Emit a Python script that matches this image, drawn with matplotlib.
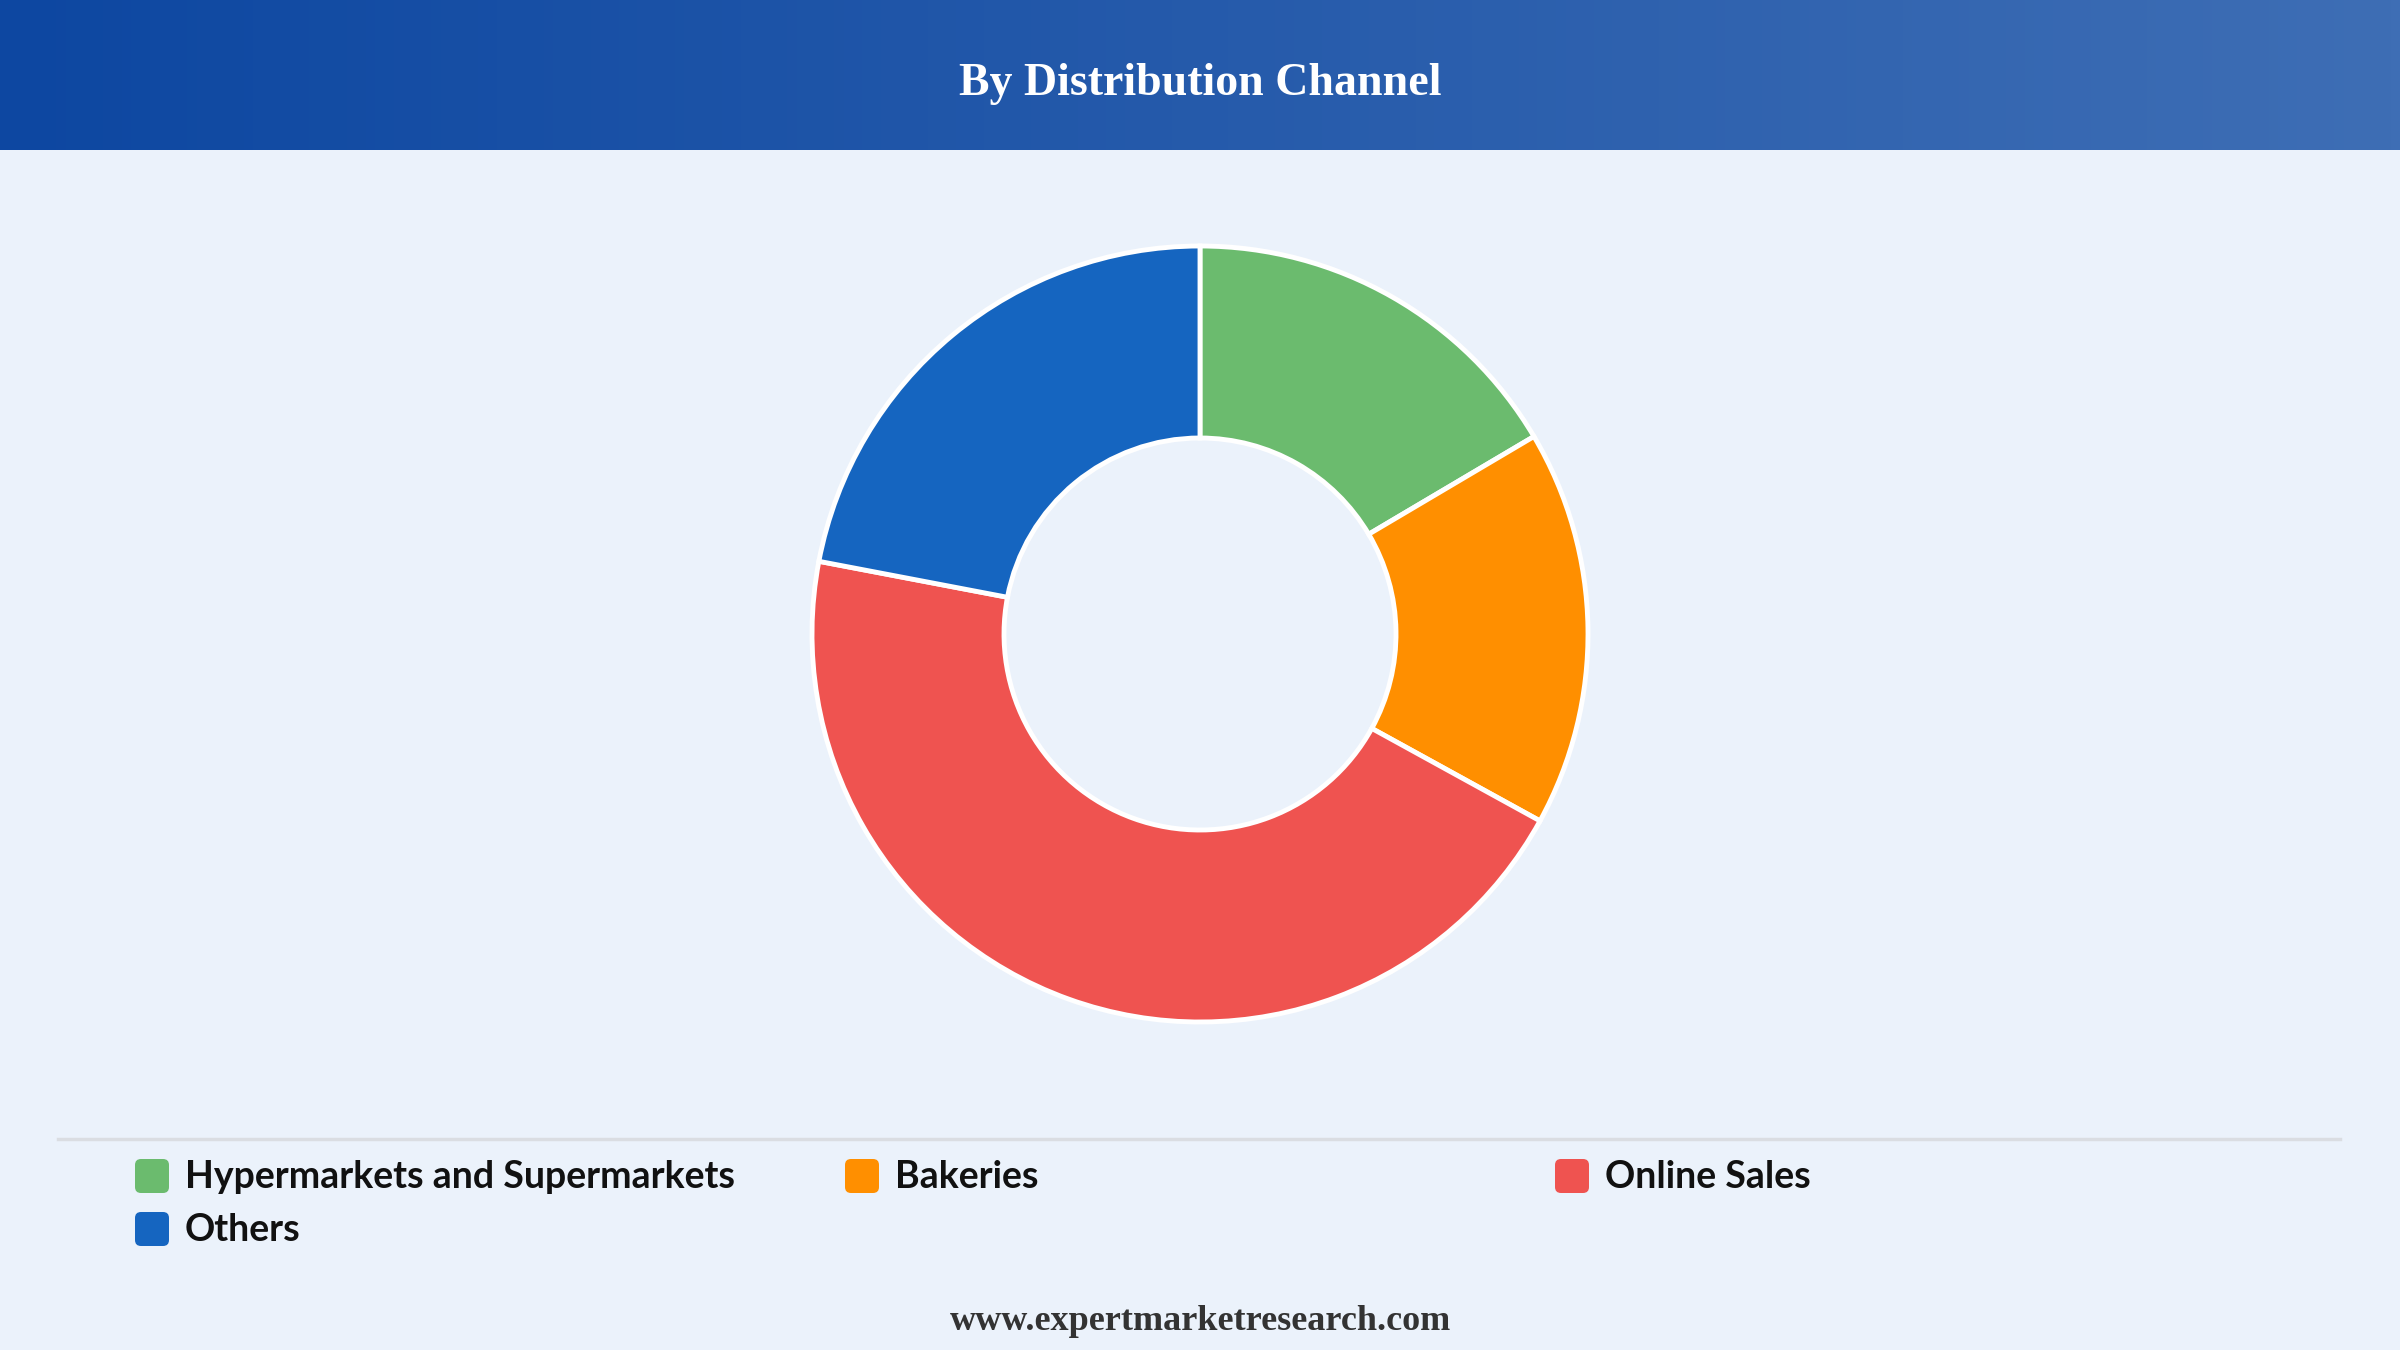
import numpy as np
import matplotlib
matplotlib.use('Agg')
import matplotlib.pyplot as plt
from matplotlib.patches import FancyBboxPatch

# data
categories = ['Hypermarkets and Supermarkets', 'Bakeries', 'Online Sales', 'Others']
shares = [16.5, 16.5, 45, 22]
colors = ['#6BBB6E', '#FF8F00', '#EF5350', '#1565C0']
title = 'By Distribution Channel'
footer = 'www.expertmarketresearch.com'

W, H = 2400, 1350
bg = '#EBF2FB'

fig = plt.figure(figsize=(24, 13.5), dpi=100, facecolor=bg)

# overlay axes in pixel coords (y down)
ov = fig.add_axes([0, 0, 1, 1])
ov.axis('off')

# header gradient
grad = np.linspace(0, 1, 256).reshape(1, -1)
c0 = np.array([13, 71, 161]) / 255
c1 = np.array([62, 110, 181]) / 255
img = c0[None, None, :] * (1 - grad[..., None]) + c1[None, None, :] * grad[..., None]
ov.imshow(img, extent=[0, W, 150, 0], aspect='auto', zorder=1)
ov.set_xlim(0, W)
ov.set_ylim(H, 0)
ov.text(W / 2, 84, title, color='white', fontsize=33, fontweight='bold',
        family='Liberation Serif', ha='center', va='center', zorder=2)

# separator
ov.plot([58, 2340], [1139, 1139], color='#DADDE2', linewidth=2.5, zorder=2)

# legend
leg_pos = [(135, 1176), (845, 1176), (1555, 1176), (135, 1229)]
for (x, y), name, col in zip(leg_pos, categories, colors):
    box = FancyBboxPatch((x + 5, y - 12), 24, 24,
                         boxstyle='round,pad=5,rounding_size=6',
                         facecolor=col, edgecolor='none', zorder=3)
    ov.add_patch(box)
    ov.text(x + 50, y + 1, name, fontsize=27, fontweight='bold',
            family='Lato', color='#111111', ha='left', va='center', zorder=3)

ov.text(W / 2, 1321, footer, fontsize=26, fontweight='bold',
        family='Liberation Serif', color='#333333', ha='center', va='center')

# donut
cx, cy = 1200, 634
half = 420
ax = fig.add_axes([(cx - half) / W, (H - cy - half) / H, 2 * half / W, 2 * half / H])
ax.pie(shares, colors=colors, radius=388, startangle=90, counterclock=False,
       wedgeprops=dict(width=192, edgecolor='white', linewidth=3.5))
ax.set_xlim(-half, half)
ax.set_ylim(-half, half)
ax.set_aspect('equal')
ax.axis('off')

fig.savefig('out.png', dpi=100, facecolor=bg)
